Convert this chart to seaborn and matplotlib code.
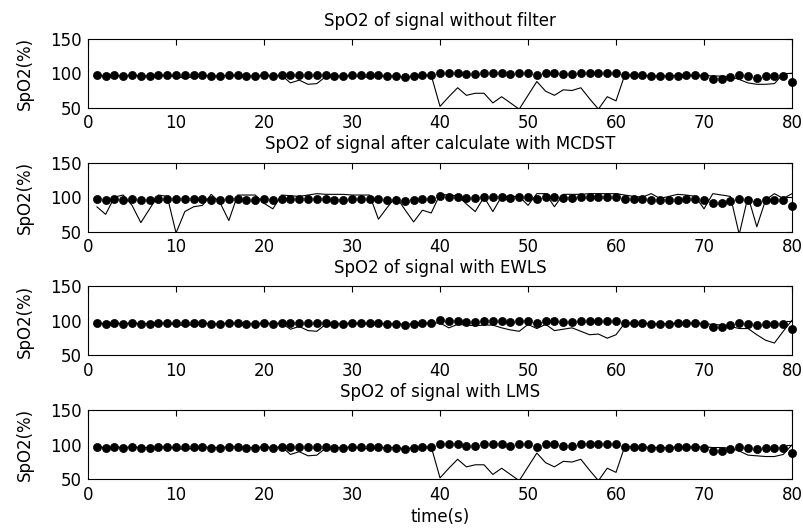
import matplotlib
matplotlib.use('Agg')
import matplotlib.pyplot as plt
import seaborn as sns

# temps (s) et SpO2 de référence (points noirs), identique sur les 4 graphes
time_s = list(range(1, 81))
spo2_ref = [97, 95.5, 97, 95.5, 97, 95.5, 95.5, 97, 97, 97,
            97, 97, 97, 95.5, 96, 97, 97, 95.5, 95.5, 97,
            95.5, 97, 97, 97, 97, 97, 97, 95.5, 95.5, 97,
            97, 97, 97, 95.5, 95.5, 94, 95.5, 97, 97.5, 101,
            100.5, 100.5, 98.6, 98.6, 100.5, 100.5, 100.5, 98.6, 100.5, 100.5,
            97.2, 100.5, 100.5, 98.6, 98.6, 100.5, 100.5, 100.5, 100.5, 100.5,
            97.2, 97.2, 97.2, 95.7, 95.7, 95.7, 96.5, 97.2, 97.2, 95.7,
            91, 91, 94.3, 97.2, 95.7, 93.4, 95.7, 95.7, 95.7, 87.7]

# SpO2 estimée (ligne fine) pour chaque méthode
spo2_raw = [97, 96, 97, 96, 97, 96, 96, 97, 97, 95,
            93, 95, 97, 96, 96, 97, 97, 96, 96, 97,
            96, 97, 86, 90, 84, 85, 95, 96, 96, 97,
            95, 94, 96, 96, 96, 94, 96, 97, 97, 52,
            66, 79, 68, 71, 71, 57, 66, 57, 48, 68,
            88, 74, 68, 76, 75, 79, 63, 48, 66, 60,
            98, 97, 97, 96, 96, 96, 97, 97, 97, 97,
            96, 96, 95, 91, 86, 84, 84, 85, 99, 100]
spo2_mcdst = [86, 75, 100, 103, 88, 63, 83, 103, 101, 48,
              79, 86, 88, 104, 92, 66, 103, 103, 103, 91,
              83, 103, 102, 101, 103, 105, 104, 104, 104, 103,
              103, 103, 68, 85, 101, 82, 64, 81, 77, 104,
              103, 102, 90, 79, 100, 79, 101, 101, 101, 88,
              105, 105, 86, 104, 104, 104, 105, 105, 105, 105,
              103, 101, 100, 105, 98, 101, 104, 103, 101, 83,
              105, 103, 101, 46, 101, 57, 96, 105, 98, 105]
spo2_ewls = [97, 96, 97, 96, 97, 96, 96, 97, 97, 95,
             93, 95, 97, 96, 96, 97, 97, 96, 96, 97,
             96, 97, 88, 92, 86, 85, 95, 96, 96, 97,
             96, 96, 96, 96, 96, 95, 96, 97, 97, 97,
             90, 95, 94, 93, 94, 94, 90, 87, 85, 95,
             89, 95, 86, 88, 90, 85, 80, 81, 75, 80,
             97, 97, 97, 96, 96, 96, 97, 97, 97, 96,
             95, 94, 92, 89, 89, 80, 72, 68, 85, 101]
spo2_lms = [97, 96, 97, 96, 97, 96, 96, 97, 97, 95,
            93, 95, 97, 96, 96, 97, 97, 96, 96, 97,
            96, 97, 86, 90, 84, 85, 95, 96, 96, 97,
            95, 94, 96, 96, 96, 94, 96, 97, 97, 52,
            66, 79, 68, 71, 71, 57, 66, 57, 48, 68,
            88, 74, 68, 76, 75, 79, 63, 48, 66, 60,
            98, 97, 97, 96, 96, 96, 97, 97, 97, 97,
            96, 96, 95, 91, 85, 84, 83, 83, 86, 100]

titles = ['SpO2 of signal without filter',
          'SpO2 of signal after calculate with MCDST',
          'SpO2 of signal with EWLS',
          'SpO2 of signal with LMS']
series = [spo2_raw, spo2_mcdst, spo2_ewls, spo2_lms]

sns.set_style('white')
plt.rcParams['font.family'] = ['DejaVu Sans']
plt.rcParams['font.size'] = 12
plt.rcParams['text.color'] = 'black'
plt.rcParams['axes.labelcolor'] = 'black'

fig, axes = plt.subplots(4, 1, figsize=(8.04, 5.31), dpi=100)
fig.subplots_adjust(left=0.1095, right=0.9851, top=0.927, bottom=0.0974, hspace=0.795)

for ax, est, title in zip(axes, series, titles):
    sns.lineplot(x=time_s, y=est, ax=ax, color='black', linewidth=0.8)
    sns.scatterplot(x=time_s, y=spo2_ref, ax=ax, color='black', s=34,
                    edgecolor='black', linewidth=0.5, clip_on=False, zorder=3)
    ax.set_xlim(0, 80)
    ax.set_ylim(50, 150)
    ax.set_xticks(range(0, 81, 10))
    ax.set_yticks([50, 100, 150])
    ax.set_ylabel('SpO2(%)', labelpad=12, color='black')
    ax.set_title(title, fontsize=12, pad=9.5, color='black')
    ax.tick_params(direction='in', length=4, width=0.8, top=True, right=True,
                   labelsize=12, pad=4.5, colors='black')
    for sp in ax.spines.values():
        sp.set_color('black')
        sp.set_linewidth(0.8)

axes[-1].set_xlabel('time(s)', labelpad=3, color='black')

plt.savefig('out.png', dpi=100)
